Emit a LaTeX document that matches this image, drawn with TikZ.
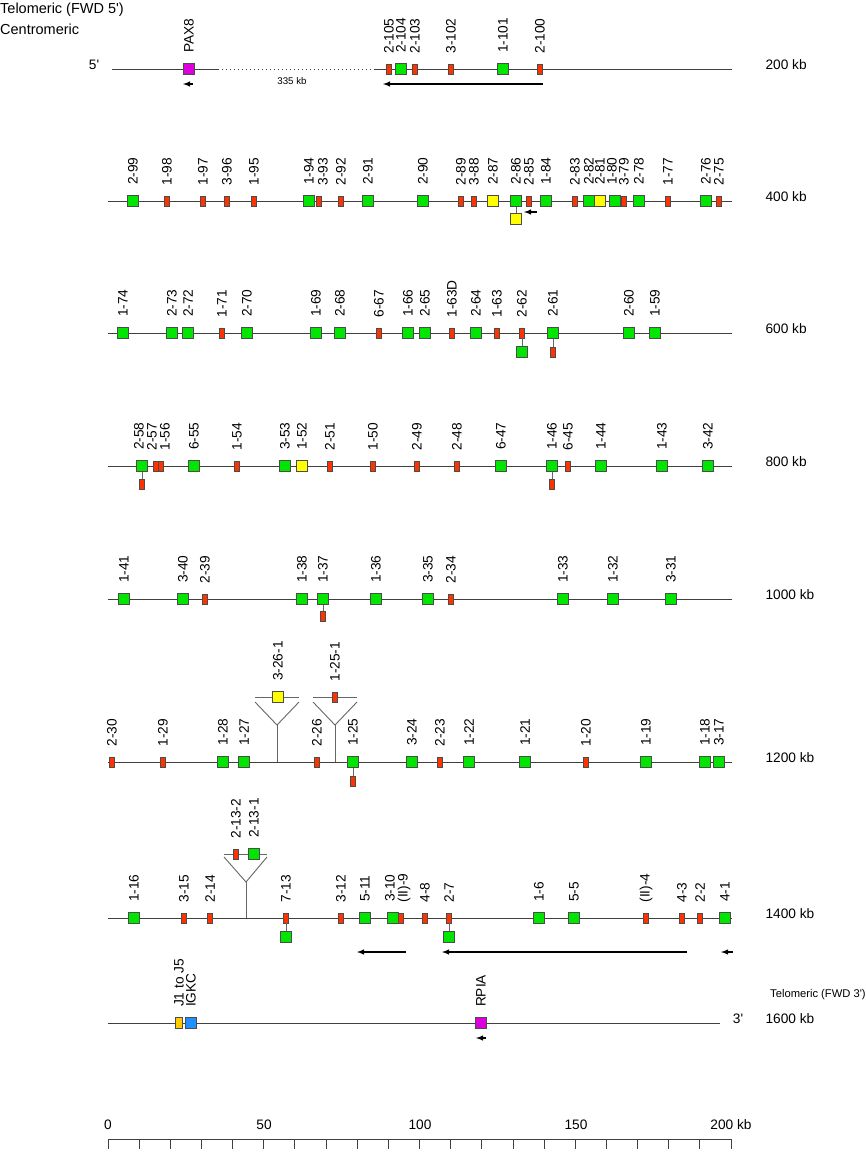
\documentclass[tikz,border=0pt]{standalone}
\usepackage{fontspec}
\setmainfont{Liberation Sans}
\definecolor{vgreen}{RGB}{0,230,0}
\definecolor{vred}{RGB}{255,51,0}
\definecolor{vyellow}{RGB}{255,255,0}
\definecolor{vmagenta}{RGB}{220,0,220}
\definecolor{jorange}{RGB}{255,204,0}
\definecolor{cblue}{RGB}{30,144,255}

\begin{document}
\begin{tikzpicture}[x=1pt,y=-1pt,
    every node/.style={font=\fontsize{13.7}{16}\selectfont},
    gene/.style={rectangle, draw=black!70, line width=0.7pt, inner sep=0pt, minimum width=11pt, minimum height=11pt},
    functional/.style={gene, fill=vgreen},
    pseudo/.style={gene, fill=vred, minimum width=5pt, minimum height=10pt},
    orf/.style={gene, fill=vyellow},
    other/.style={gene, fill=vmagenta},
    jcluster/.style={gene, fill=jorange, minimum width=7pt},
    cgene/.style={gene, fill=cblue},
    vlabel/.style={yshift=9.5pt, rotate=90, anchor=west, inner sep=0.5pt, label distance=0pt},
    vname/.style={label={[vlabel]90:#1}},
    backbone/.style={draw=black!75, line width=0.9pt},
    stem/.style={draw=black!60, line width=0.9pt},
    strand/.style={-latex, line width=1.4pt},
    kb/.style={anchor=west},
    big/.style={font=\fontsize{14.5}{17}\selectfont}]
\useasboundingbox (0,0) rectangle (866,1152);

\node[big, anchor=base west, inner sep=0pt] (telo5) at (0,13) {Telomeric (FWD 5\textquotesingle)};
\node[big, anchor=base west, inner sep=0pt] (centro) at (0,34) {Centromeric};

\coordinate (r1a) at (112,69); \coordinate (r1b) at (218,69);
\coordinate (r1c) at (374,69); \coordinate (r1d) at (732,69);
\draw[backbone] (r1a) -- (r1b);
\draw[backbone, dash pattern=on 1pt off 3pt] (r1b) -- (r1c);
\draw[backbone] (r1c) -- (r1d);
\node (end5) at (94,65) {5\textquotesingle};
\node[kb] (kb200) at (762,65) {200 kb};
\node[font=\fontsize{9.7}{11}\selectfont] (gap) at (292,81) {335 kb};
\node[other, vname=PAX8] (pax8) at (189,69) {};
\node[pseudo, vname=2-105] (g2_105) at (389,69) {};
\node[functional, vname=2-104] (g2_104) at (401,69) {};
\node[pseudo, vname=2-103] (g2_103) at (415,69) {};
\node[pseudo, vname=3-102] (g3_102) at (451,69) {};
\node[functional, vname=1-101] (g1_101) at (503,69) {};
\node[pseudo, vname=2-100] (g2_100) at (540,69) {};
\coordinate (a1s) at (193,84); \coordinate (a1e) at (183,84);
\coordinate (a2s) at (543,84); \coordinate (a2e) at (383,84);
\draw[strand] (a1s) -- (a1e);
\draw[strand] (a2s) -- (a2e);

\coordinate (r2a) at (108,201); \coordinate (r2b) at (732,201);
\draw[backbone] (r2a) -- (r2b);
\node[kb] (kb400) at (762,197) {400 kb};
\node[functional, vname=2-99] (g2_99) at (133,201) {};
\node[pseudo, vname=1-98] (g1_98) at (167,201) {};
\node[pseudo, vname=1-97] (g1_97) at (203,201) {};
\node[pseudo, vname=3-96] (g3_96) at (227,201) {};
\node[pseudo, vname=1-95] (g1_95) at (254,201) {};
\node[functional, vname=1-94] (g1_94) at (309,201) {};
\node[pseudo, label={[xshift=4pt, vlabel]90:3-93}] (g3_93) at (319,201) {};
\node[pseudo, vname=2-92] (g2_92) at (341,201) {};
\node[functional, vname=2-91] (g2_91) at (368,201) {};
\node[functional, vname=2-90] (g2_90) at (423,201) {};
\node[pseudo, vname=2-89] (g2_89) at (461,201) {};
\node[pseudo, vname=3-88] (g3_88) at (474,201) {};
\node[orf, vname=2-87] (g2_87) at (493,201) {};
\node[functional, vname=2-86] (g2_86) at (516,201) {};
\node[pseudo, vname=2-85] (g2_85) at (529,201) {};
\node[functional, vname=1-84] (g1_84) at (546,201) {};
\node[pseudo, vname=2-83] (g2_83) at (575,201) {};
\node[functional, vname=2-82] (g2_82) at (589,201) {};
\node[orf, vname=2-81] (g2_81) at (600,201) {};
\node[functional, label={[xshift=-3pt, vlabel]90:1-80}] (g1_80) at (615,201) {};
\node[pseudo, vname=3-79] (g3_79) at (624,201) {};
\node[functional, vname=2-78] (g2_78) at (639,201) {};
\node[pseudo, vname=1-77] (g1_77) at (668,201) {};
\node[functional, vname=2-76] (g2_76) at (706,201) {};
\node[pseudo, vname=2-75] (g2_75) at (719,201) {};
\node[orf] (g2_86b) at (516,219) {};
\draw[stem] (g2_86) -- (g2_86b);
\coordinate (a3s) at (537,212); \coordinate (a3e) at (524,212);
\draw[strand] (a3s) -- (a3e);

\coordinate (r3a) at (108,333); \coordinate (r3b) at (732,333);
\draw[backbone] (r3a) -- (r3b);
\node[kb] (kb600) at (762,329) {600 kb};
\node[functional, vname=1-74] (g1_74) at (123,333) {};
\node[functional, vname=2-73] (g2_73) at (172,333) {};
\node[functional, vname=2-72] (g2_72) at (188,333) {};
\node[pseudo, vname=1-71] (g1_71) at (222,333) {};
\node[functional, vname=2-70] (g2_70) at (247,333) {};
\node[functional, vname=1-69] (g1_69) at (316,333) {};
\node[functional, vname=2-68] (g2_68) at (340,333) {};
\node[pseudo, vname=6-67] (g6_67) at (379,333) {};
\node[functional, vname=1-66] (g1_66) at (408,333) {};
\node[functional, vname=2-65] (g2_65) at (425,333) {};
\node[pseudo, vname=1-63D] (g1_63D) at (452,333) {};
\node[functional, vname=2-64] (g2_64) at (476,333) {};
\node[pseudo, vname=1-63] (g1_63) at (497,333) {};
\node[pseudo, vname=2-62] (g2_62) at (522,333) {};
\node[functional, vname=2-61] (g2_61) at (553,333) {};
\node[functional, vname=2-60] (g2_60) at (629,333) {};
\node[functional, vname=1-59] (g1_59) at (655,333) {};
\node[functional] (g2_62b) at (522,352) {};
\node[pseudo] (g2_61b) at (553,352) {};
\draw[stem] (g2_62) -- (g2_62b);
\draw[stem] (g2_61) -- (g2_61b);

\coordinate (r4a) at (108,466); \coordinate (r4b) at (732,466);
\draw[backbone] (r4a) -- (r4b);
\node[kb] (kb800) at (762,462) {800 kb};
\node[functional, label={[xshift=-3pt, vlabel]90:2-58}] (g2_58) at (142,466) {};
\node[pseudo, label={[xshift=-4pt, vlabel]90:2-57}] (g2_57) at (156,466) {};
\node[pseudo, label={[xshift=4pt, vlabel]90:1-56}] (g1_56) at (161,466) {};
\node[functional, vname=6-55] (g6_55) at (194,466) {};
\node[pseudo, vname=1-54] (g1_54) at (237,466) {};
\node[functional, vname=3-53] (g3_53) at (285,466) {};
\node[orf, vname=1-52] (g1_52) at (302,466) {};
\node[pseudo, vname=2-51] (g2_51) at (330,466) {};
\node[pseudo, vname=1-50] (g1_50) at (373,466) {};
\node[pseudo, vname=2-49] (g2_49) at (417,466) {};
\node[pseudo, vname=2-48] (g2_48) at (457,466) {};
\node[functional, vname=6-47] (g6_47) at (501,466) {};
\node[functional, vname=1-46] (g1_46) at (552,466) {};
\node[pseudo, vname=6-45] (g6_45) at (568,466) {};
\node[functional, vname=1-44] (g1_44) at (601,466) {};
\node[functional, vname=1-43] (g1_43) at (662,466) {};
\node[functional, vname=3-42] (g3_42) at (708,466) {};
\node[pseudo] (g2_58b) at (142,484) {};
\node[pseudo] (g1_46b) at (552,484) {};
\draw[stem] (g2_58) -- (g2_58b);
\draw[stem] (g1_46) -- (g1_46b);

\coordinate (r5a) at (108,599); \coordinate (r5b) at (732,599);
\draw[backbone] (r5a) -- (r5b);
\node[kb] (kb1000) at (762,595) {1000 kb};
\node[functional, vname=1-41] (g1_41) at (124,599) {};
\node[functional, vname=3-40] (g3_40) at (183,599) {};
\node[pseudo, vname=2-39] (g2_39) at (205,599) {};
\node[functional, vname=1-38] (g1_38) at (302,599) {};
\node[functional, vname=1-37] (g1_37) at (323,599) {};
\node[functional, vname=1-36] (g1_36) at (376,599) {};
\node[functional, vname=3-35] (g3_35) at (428,599) {};
\node[pseudo, vname=2-34] (g2_34) at (451,599) {};
\node[functional, vname=1-33] (g1_33) at (563,599) {};
\node[functional, vname=1-32] (g1_32) at (613,599) {};
\node[functional, vname=3-31] (g3_31) at (671,599) {};
\node[pseudo] (g1_37b) at (323,616) {};
\draw[stem] (g1_37) -- (g1_37b);

\coordinate (r6a) at (108,762); \coordinate (r6b) at (732,762);
\draw[backbone] (r6a) -- (r6b);
\coordinate (i1) at (277,762); \coordinate (i1t) at (277,725);
\coordinate (i1l) at (255,702); \coordinate (i1r) at (299,702);
\coordinate (i1a) at (255,697); \coordinate (i1b) at (299,697);
\draw[stem] (i1) -- (i1t);
\draw[stem] (i1l) -- (i1t) -- (i1r);
\draw[stem] (i1a) -- (i1b);
\coordinate (i2) at (335,762); \coordinate (i2t) at (335,725);
\coordinate (i2l) at (313,702); \coordinate (i2r) at (357,702);
\coordinate (i2a) at (313,697); \coordinate (i2b) at (357,697);
\draw[stem] (i2) -- (i2t);
\draw[stem] (i2l) -- (i2t) -- (i2r);
\draw[stem] (i2a) -- (i2b);
\node[kb] (kb1200) at (762,758) {1200 kb};
\node[orf, vname=3-26-1] (g3_26_1) at (278,697) {};
\node[pseudo, vname=1-25-1] (g1_25_1) at (335,697) {};
\node[pseudo, vname=2-30] (g2_30) at (112,762) {};
\node[pseudo, vname=1-29] (g1_29) at (163,762) {};
\node[functional, vname=1-28] (g1_28) at (223,762) {};
\node[functional, vname=1-27] (g1_27) at (244,762) {};
\node[pseudo, vname=2-26] (g2_26) at (317,762) {};
\node[functional, vname=1-25] (g1_25) at (353,762) {};
\node[functional, vname=3-24] (g3_24) at (412,762) {};
\node[pseudo, vname=2-23] (g2_23) at (440,762) {};
\node[functional, vname=1-22] (g1_22) at (469,762) {};
\node[functional, vname=1-21] (g1_21) at (525,762) {};
\node[pseudo, vname=1-20] (g1_20) at (586,762) {};
\node[functional, vname=1-19] (g1_19) at (646,762) {};
\node[functional, vname=1-18] (g1_18) at (705,762) {};
\node[functional, vname=3-17] (g3_17) at (719,762) {};
\node[pseudo] (g1_25b) at (353,781) {};
\draw[stem] (g1_25) -- (g1_25b);

\coordinate (r7a) at (108,918); \coordinate (r7b) at (732,918);
\draw[backbone] (r7a) -- (r7b);
\coordinate (i3) at (246,918); \coordinate (i3t) at (246,882);
\coordinate (i3l) at (224,857); \coordinate (i3r) at (267,857);
\coordinate (i3a) at (224,854); \coordinate (i3b) at (267,854);
\draw[stem] (i3) -- (i3t);
\draw[stem] (i3l) -- (i3t) -- (i3r);
\draw[stem] (i3a) -- (i3b);
\node[kb] (kb1400) at (762,914) {1400 kb};
\node[pseudo, vname=2-13-2] (g2_13_2) at (236,854) {};
\node[functional, vname=2-13-1] (g2_13_1) at (254,854) {};
\node[functional, vname=1-16] (g1_16) at (134,918) {};
\node[pseudo, vname=3-15] (g3_15) at (184,918) {};
\node[pseudo, vname=2-14] (g2_14) at (210,918) {};
\node[pseudo, vname=7-13] (g7_13) at (286,918) {};
\node[pseudo, vname=3-12] (g3_12) at (341,918) {};
\node[functional, vname=5-11] (g5_11) at (365,918) {};
\node[functional, label={[xshift=-3pt, vlabel]90:3-10}] (g3_10) at (393,918) {};
\node[pseudo, label={[xshift=3pt, vlabel]90:(II)-9}] (gII_9) at (401,918) {};
\node[pseudo, vname=4-8] (g4_8) at (425,918) {};
\node[pseudo, vname=2-7] (g2_7) at (449,918) {};
\node[functional, vname=1-6] (g1_6) at (539,918) {};
\node[functional, vname=5-5] (g5_5) at (574,918) {};
\node[pseudo, vname=(II)-4] (gII_4) at (646,918) {};
\node[pseudo, vname=4-3] (g4_3) at (682,918) {};
\node[pseudo, vname=2-2] (g2_2) at (700,918) {};
\node[functional, vname=4-1] (g4_1) at (725,918) {};
\node[functional] (g7_13b) at (286,937) {};
\node[functional] (g2_7b) at (449,937) {};
\draw[stem] (g7_13) -- (g7_13b);
\draw[stem] (g2_7) -- (g2_7b);
\coordinate (a4s) at (406,952); \coordinate (a4e) at (357,952);
\coordinate (a5s) at (687,952); \coordinate (a5e) at (442,952);
\coordinate (a6s) at (733,952); \coordinate (a6e) at (721,952);
\draw[strand] (a4s) -- (a4e);
\draw[strand] (a5s) -- (a5e);
\draw[strand] (a6s) -- (a6e);

\node[anchor=base west, inner sep=0pt, font=\fontsize{11.2}{13}\selectfont] (telo3) at (770,997) {Telomeric (FWD 3\textquotesingle)};
\coordinate (r8a) at (108,1023); \coordinate (r8b) at (720,1023);
\draw[backbone] (r8a) -- (r8b);
\node (end3) at (738,1019) {3\textquotesingle};
\node[kb] (kb1600) at (762,1019) {1600 kb};
\node[jcluster, vname=J1 to J5] (j1j5) at (179,1023) {};
\node[cgene, vname=IGKC] (igkc) at (191,1023) {};
\node[other, vname=RPIA] (rpia) at (481,1023) {};
\coordinate (a7s) at (486,1038); \coordinate (a7e) at (476,1038);
\draw[strand] (a7s) -- (a7e);

\coordinate (sa) at (108,1139); \coordinate (sb) at (731,1139);
\draw[backbone] (sa) -- (sb);
\foreach \k in {0,10,...,200}
  \draw[backbone] (108+3.115*\k,1139) -- ++(0,10);
\node (s0) at (108,1125) {0};
\node (s50) at (264,1125) {50};
\node (s100) at (420,1125) {100};
\node (s150) at (576,1125) {150};
\node (s200) at (731,1125) {200 kb};
\end{tikzpicture}
\end{document}
